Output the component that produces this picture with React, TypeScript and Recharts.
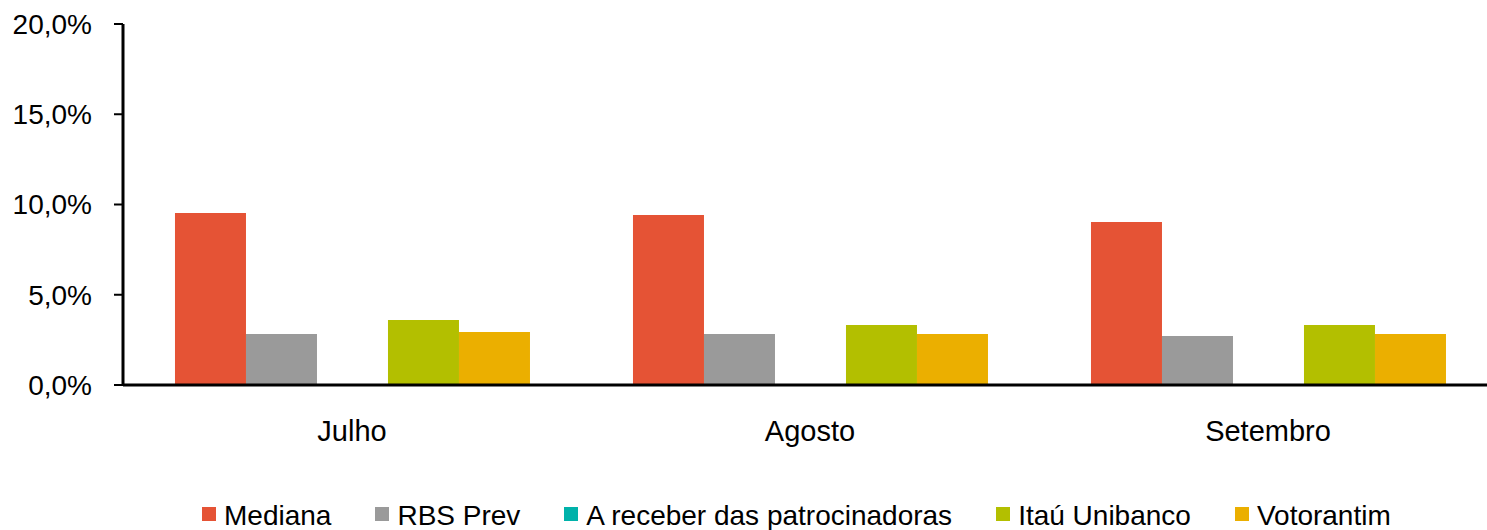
import React from 'react';
import { BarChart, Bar, XAxis, YAxis, Legend } from 'recharts';

const categories = ['Julho', 'Agosto', 'Setembro'];
const mediana = [9.53, 9.42, 9.03];
const rbsPrev = [2.83, 2.83, 2.71];
const aReceber = [0, 0, 0];
const itau = [3.6, 3.32, 3.32];
const votorantim = [2.94, 2.83, 2.83];
const yTicks = [0, 5, 10, 15, 20];

const seriesNames = ['Mediana', 'RBS Prev', 'A receber das patrocinadoras', 'Itaú Unibanco', 'Votorantim'];
const seriesKeys = ['mediana', 'rbsPrev', 'aReceber', 'itau', 'votorantim'];
const seriesColors = ['#E55335', '#9A9A9A', '#00B2AA', '#B3BF00', '#EBAF00'];

const data = categories.map((c, i) => ({
  name: c,
  mediana: mediana[i],
  rbsPrev: rbsPrev[i],
  aReceber: aReceber[i],
  itau: itau[i],
  votorantim: votorantim[i],
}));

const boundaryTicks = categories.map((_, i) => i).concat(categories.length);

const FONT = '"Liberation Sans", Arial, sans-serif';

const fmt = (v: number) => v.toFixed(1).replace('.', ',') + '%';

const LegendContent = () => (
  <div
    style={{
      display: 'flex',
      alignItems: 'center',
      height: 40,
      boxSizing: 'border-box',
      paddingTop: 12,
      paddingLeft: 202,
      fontFamily: FONT,
      fontSize: 28,
      color: '#000',
      whiteSpace: 'nowrap',
    }}
  >
    {seriesNames.map((n, i) => (
      <div key={n} style={{ display: 'flex', alignItems: 'center', marginRight: 44 }}>
        <span
          style={{
            display: 'inline-block',
            width: 14,
            height: 14,
            background: seriesColors[i],
            marginRight: 8,
            transform: 'translateY(-2px)',
          }}
        />
        <span>{n}</span>
      </div>
    ))}
  </div>
);

export default function App() {
  return (
    <div
      style={{
        position: 'fixed',
        left: 0,
        top: 0,
        width: 1487,
        height: 530,
        overflow: 'hidden',
        background: '#fff',
      }}
    >
      <BarChart
        width={1510}
        height={530}
        data={data}
        margin={{ top: 24, right: 13, bottom: 0, left: 0 }}
        barCategoryGap="11.35%"
        barGap={0}
      >
        <XAxis
          xAxisId="z"
          dataKey="name"
          height={95}
          axisLine={false}
          tickLine={false}
          tickSize={0}
          tickMargin={25}
          interval={0}
          tick={{ fontSize: 29, fill: '#000', fontFamily: FONT }}
        />
        <XAxis
          xAxisId="a"
          type="number"
          domain={[0, categories.length]}
          ticks={boundaryTicks}
          allowDataOverflow
          height={10}
          tickSize={9}
          tick={false}
          axisLine={{ stroke: '#000', strokeWidth: 3 }}
          tickLine={{ stroke: '#000', strokeWidth: 2 }}
        />
        <YAxis
          width={123}
          domain={[0, 20]}
          ticks={yTicks}
          tickFormatter={fmt}
          tickSize={9}
          tickMargin={22}
          axisLine={{ stroke: '#000', strokeWidth: 3 }}
          tickLine={{ stroke: '#000', strokeWidth: 2 }}
          tick={{ fontSize: 28, fill: '#000', fontFamily: FONT }}
        />
        <Legend
          verticalAlign="bottom"
          height={40}
          wrapperStyle={{ left: 0, width: 1487, bottom: 0 }}
          content={<LegendContent />}
        />
        {seriesKeys.map((k, i) => (
          <Bar
            key={k}
            xAxisId="z"
            dataKey={k}
            name={seriesNames[i]}
            fill={seriesColors[i]}
            isAnimationActive={false}
          />
        ))}
      </BarChart>
    </div>
  );
}
